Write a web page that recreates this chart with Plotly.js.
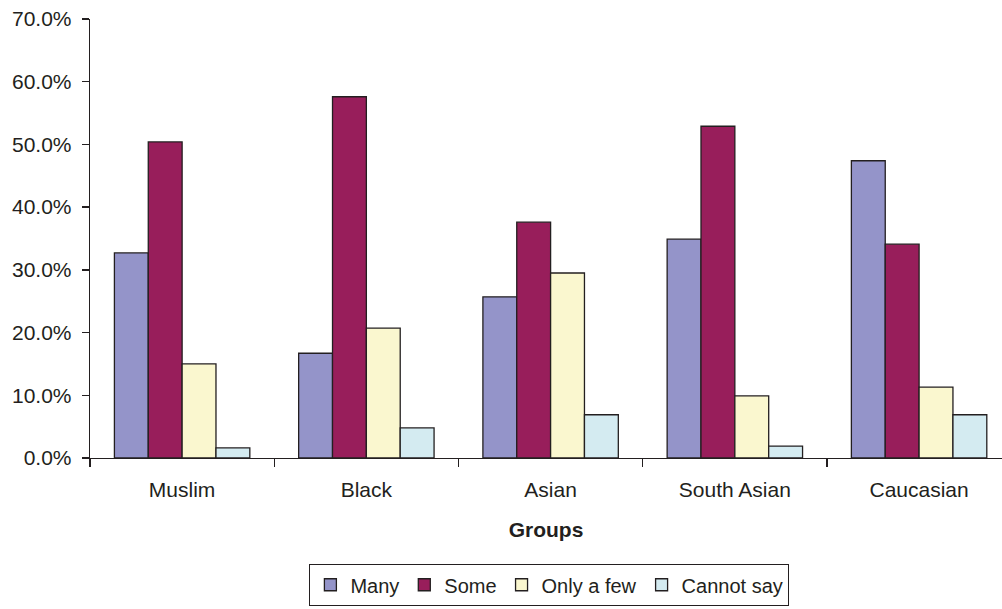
<!DOCTYPE html>
<html>
<head>
<meta charset="utf-8">
<script src="https://cdn.plot.ly/plotly-3.0.1.min.js"></script>
<style>html,body{margin:0;padding:0;background:#fff;}#chart{width:1002px;height:609px;}</style>
</head>
<body>
<div id="chart"></div>
<script>
const groups = ["Muslim", "Black", "Asian", "South Asian", "Caucasian"];
const many = [32.7, 16.7, 25.7, 34.9, 47.4];
const some = [50.4, 57.6, 37.6, 52.9, 34.1];
const onlyAFew = [15.0, 20.7, 29.5, 9.9, 11.3];
const cannotSay = [1.6, 4.8, 6.9, 1.9, 6.9];
const seriesNames = ["Many", "Some", "Only a few", "Cannot say"];
const seriesColors = ["#9494C9", "#981E5B", "#FAF7CF", "#D4EBF1"];
const seriesValues = [many, some, onlyAFew, cannotSay];
const yTicks = [0, 10, 20, 30, 40, 50, 60, 70];

const traces = seriesValues.map((vals, i) => ({
  type: "bar",
  name: seriesNames[i],
  x: groups,
  y: vals,
  marker: {color: seriesColors[i], line: {color: "#231F20", width: 1.3}},
  hoverinfo: "x+y+name"
}));

const font = "Liberation Sans, Arial, sans-serif";
const layout = {
  width: 1002, height: 609,
  margin: {l: 90, r: 0, t: 19, b: 151},
  paper_bgcolor: "#fff", plot_bgcolor: "#fff",
  barmode: "group",
  bargap: 0.265,
  bargroupgap: 0,
  font: {family: font, color: "#231F20", size: 21},
  xaxis: {
    type: "category",
    range: [-0.5, 4.45],
    showline: true, linecolor: "#231F20", linewidth: 1.3,
    ticks: "outside", tickson: "boundaries", ticklen: 8, tickcolor: "#231F20", tickwidth: 1.3,
    tickfont: {family: font, size: 21, color: "#231F20"},
    ticklabelstandoff: 12,
    showgrid: false, zeroline: false,
    title: {text: "<b>Groups</b>", font: {family: font, size: 21, color: "#231F20"}, standoff: 22}
  },
  yaxis: {
    range: [0, 70],
    tickvals: yTicks,
    ticktext: yTicks.map(v => v.toFixed(1) + "%"),
    showline: true, linecolor: "#231F20", linewidth: 1.3,
    ticks: "outside", ticklen: 7, tickcolor: "#231F20", tickwidth: 1.3,
    tickfont: {family: font, size: 21, color: "#231F20"},
    ticklabelstandoff: 6,
    showgrid: false, zeroline: false
  },
  legend: {
    orientation: "h",
    xref: "container", yref: "container",
    x: 0.548, xanchor: "center",
    y: 0.005, yanchor: "bottom",
    bordercolor: "#231F20", borderwidth: 1.3,
    font: {family: font, size: 20, color: "#231F20"},
    itemwidth: 30, tracegroupgap: 0,
    traceorder: "normal"
  },
  showlegend: true
};

Plotly.newPlot("chart", traces, layout, {displayModeBar: false, staticPlot: true});
</script>
</body>
</html>
